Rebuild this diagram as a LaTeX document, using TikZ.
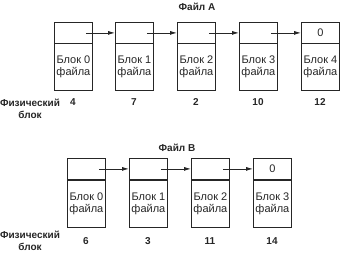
\documentclass[tikz,border=0pt]{standalone}
\usepackage{fontspec}
\setmainfont{Liberation Sans}
\usetikzlibrary{arrows.meta}
\begin{document}
\begin{tikzpicture}[x=1pt,y=-1pt,
  every node/.style={text=black!85},
  ptrcell/.style={draw=black!85, line width=0.8pt, minimum width=38pt, minimum height=21pt, inner sep=0pt, anchor=north west},
  datacell/.style={draw=black!85, line width=0.8pt, minimum width=38pt, minimum height=47pt, inner sep=0pt, align=center, anchor=north west, font=\fontsize{11}{12}\selectfont},
  link/.style={draw=black!85, line width=0.8pt, -{Latex[length=7pt,width=4pt]}},
  lbl/.style={inner sep=0pt, align=center, font=\fontsize{10}{12}\selectfont\bfseries},
  nullptr/.style={inner sep=0pt, font=\fontsize{11}{12}\selectfont}
]
\useasboundingbox (0,0) rectangle (340,252);

% ---- File A ----
\node[lbl] (titleA) at (197,7) {Файл A};
\foreach \i/\x/\n in {0/54/4, 1/115/7, 2/177/2, 3/239/10, 4/301/12} {
  \node[ptrcell] (a\i p) at (\x,22) {};
  \node[datacell] (a\i d) at (\x,43) {Блок \i\\файла};
  \node[lbl] (a\i n) at (\x+19,102) {\n};
}
\node[nullptr] at (a4p.center) {0};
\foreach \i/\j in {0/1, 1/2, 2/3, 3/4} {
  \coordinate (a\i s) at ([xshift=-7pt]a\i p.east);
  \draw[link] (a\i s) -- (a\j p.west);
}
\node[lbl] (physA) at (30,109) {Физический\\блок};

% ---- File B ----
\node[lbl] (titleB) at (177,148) {Файл B};
\foreach \i/\x/\n in {0/67/6, 1/129/3, 2/191/11, 3/253/14} {
  \node[ptrcell] (b\i p) at (\x,158) {};
  \node[datacell] (b\i d) at (\x,180) {Блок \i\\файла};
  \node[lbl] (b\i n) at (\x+19,241) {\n};
}
\node[nullptr] at (b3p.center) {0};
\foreach \i/\j in {0/1, 1/2, 2/3} {
  \coordinate (b\i s) at ([xshift=-7pt]b\i p.east);
  \draw[link] (b\i s) -- (b\j p.west);
}
\node[lbl] (physB) at (30,241) {Физический\\блок};
\end{tikzpicture}
\end{document}
